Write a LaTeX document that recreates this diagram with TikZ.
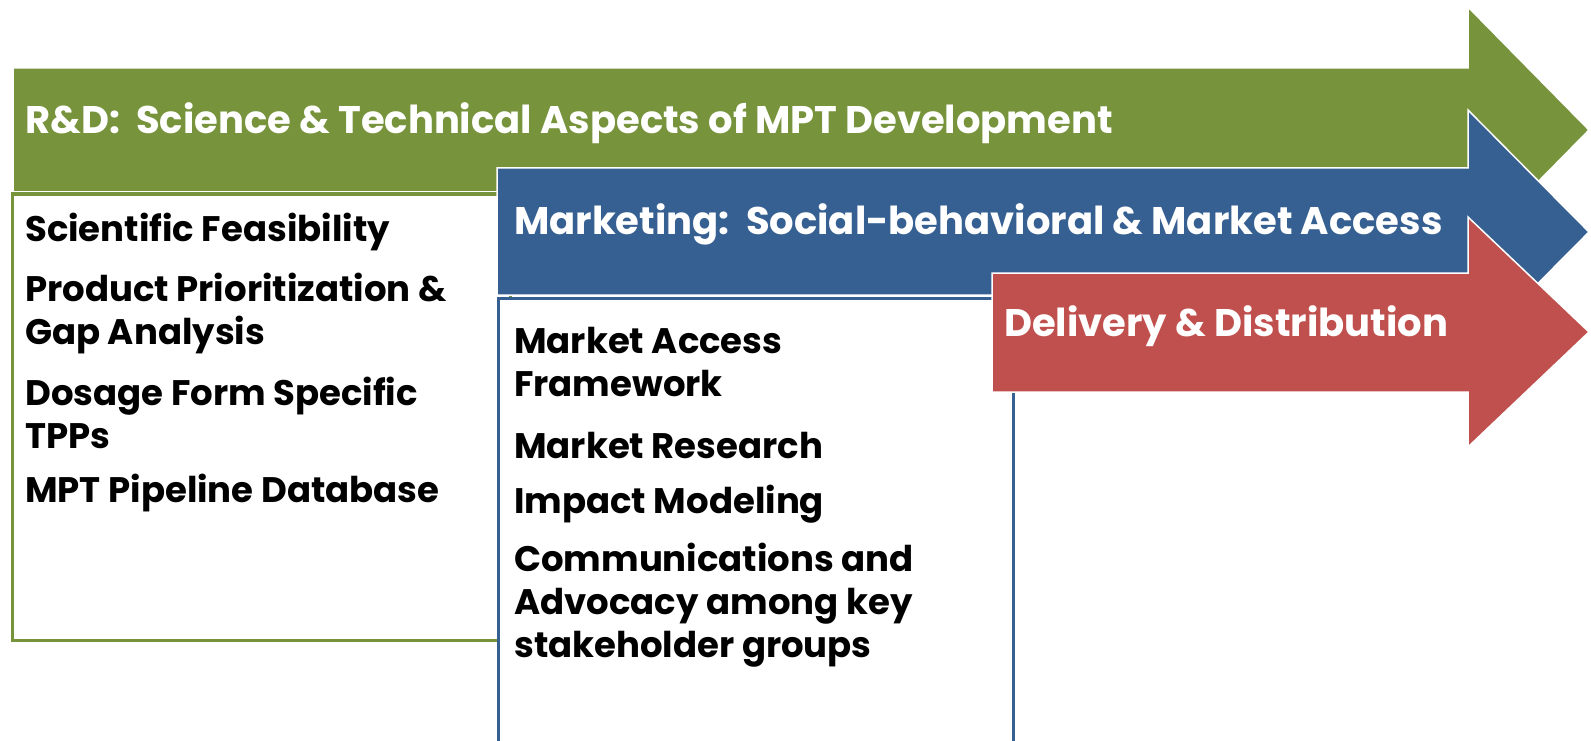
\documentclass[tikz,border=0pt]{standalone}
\usepackage{fontspec}
\setmainfont{Poppins}
\definecolor{rdgreen}{HTML}{77933C}
\definecolor{mkblue}{HTML}{376092}
\definecolor{dlred}{HTML}{C0504D}
\tikzset{
  arrowshape/.style={draw=white, line width=1.5pt, line join=miter},
  headtext/.style={anchor=west, text=white, font=\fontsize{38.5}{44}\selectfont\bfseries, inner sep=0pt},
  itemtext/.style={anchor=west, text=black, font=\fontsize{35.5}{43}\selectfont\bfseries, inner sep=0pt, align=left},
  listbox/.style={fill=white, line width=3pt}
}
\begin{document}
\begin{tikzpicture}[x=1pt,y=-1pt]
\useasboundingbox (0,0) rectangle (1591,741);
% green arrow
\fill[rdgreen, arrowshape] (13,68) -- (1468,68) -- (1468,7) -- (1589,130) -- (1468,253) -- (1468,192) -- (13,192) -- cycle;
\node[headtext] (rdh) at (25,123) {R\&D:\ \ Science \& Technical Aspects of MPT Development};
% green box
\draw[listbox, draw=rdgreen] (12,194) rectangle (510,640);
\node[itemtext] (sf) at (25,232) {Scientific Feasibility};
\node[itemtext] (pp) at (25,314) {Product Prioritization \&\\Gap Analysis};
\node[itemtext] (df) at (25,413) {Dosage Form Specific\\TPPs};
\node[itemtext] (mp) at (25,493) {MPT Pipeline Database};
% blue arrow
\fill[mkblue, arrowshape] (497,168) -- (1468,168) -- (1468,110) -- (1589,232) -- (1468,354) -- (1468,295) -- (497,295) -- cycle;
\node[headtext] (mkh) at (514,224) {Marketing:\ \ Social-behavioral \& Market Access};
% blue box
\draw[listbox, draw=mkblue] (498,298) rectangle (1013,742);
\node[itemtext] (maf) at (514,362) {Market Access\\Framework};
\node[itemtext] (mr) at (514,446) {Market Research};
\node[itemtext] (im) at (514,504) {Impact Modeling};
\node[itemtext] (ca) at (514,605) {Communications and\\Advocacy among key\\stakeholder groups};
% red arrow
\fill[dlred, arrowshape] (992,273) -- (1468,273) -- (1468,217) -- (1589,332) -- (1468,447) -- (1468,392) -- (992,392) -- cycle;
\node[headtext] (dd) at (1004,326) {Delivery \& Distribution};
\end{tikzpicture}
\end{document}
